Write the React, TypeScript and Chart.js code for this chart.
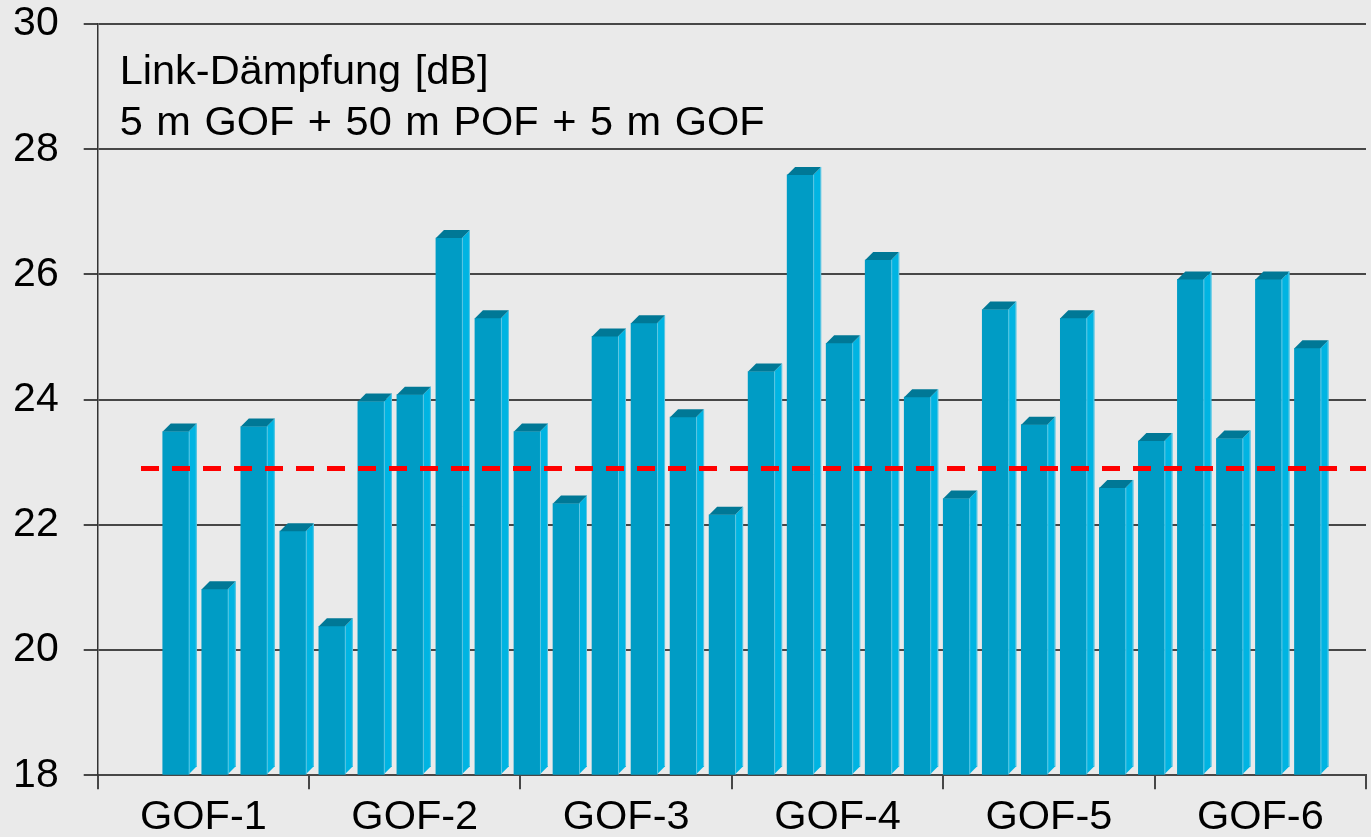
import React, { useEffect, useRef } from "react";
import { Chart, registerables } from "chart.js";

Chart.register(...registerables);

const categories = ["GOF-1", "GOF-2", "GOF-3", "GOF-4", "GOF-5", "GOF-6"];
const barValues = [
  23.49, 20.97, 23.57, 21.9, 20.38,
  23.97, 24.08, 26.58, 25.3, 23.49,
  22.34, 25.01, 25.22, 23.72, 22.16,
  24.45, 27.59, 24.9, 26.23, 24.04,
  22.42, 25.44, 23.6, 25.3, 22.59,
  23.34, 25.92, 23.38, 25.92, 24.82,
];
const yTicks = [18, 20, 22, 24, 26, 28, 30];
const refValue = 22.9;
const refSpan = [-0.89, 30.5];
const titleLines = ["Link-Dämpfung [dB]", "5 m GOF + 50 m POF + 5 m GOF"];

const FONT = "'Liberation Sans', Arial, sans-serif";
const FRONT = "#009cc5";
const SIDE = "#00b4e2";
const TOP = "#007896";
const EDGE = "#5fc6e2";
const GRID = "#474747";

const faces3d = {
  id: "faces3d",
  afterDatasetDraw(chart: any, args: any) {
    if (args.index !== 0) return;
    const meta = chart.getDatasetMeta(0);
    const ctx = chart.ctx;
    const d = 8;
    const bottom = chart.chartArea.bottom;
    ctx.save();
    meta.data.forEach((el: any) => {
      const p = el.getProps(["x", "y", "base", "width"], true);
      const x = p.x, y = p.y, width = p.width;
      const base = Math.min(p.base, bottom);
      const l = x - width / 2;
      const r = x + width / 2;
      ctx.fillStyle = SIDE;
      ctx.beginPath();
      ctx.moveTo(r, y);
      ctx.lineTo(r + d, y - d);
      ctx.lineTo(r + d, base - d);
      ctx.lineTo(r, base);
      ctx.closePath();
      ctx.fill();
      ctx.fillStyle = TOP;
      ctx.beginPath();
      ctx.moveTo(l, y);
      ctx.lineTo(l + d, y - d);
      ctx.lineTo(r + d, y - d);
      ctx.lineTo(r, y);
      ctx.closePath();
      ctx.fill();
      ctx.strokeStyle = EDGE;
      ctx.lineWidth = 1;
      ctx.beginPath();
      ctx.moveTo(r + 0.5, y);
      ctx.lineTo(r + 0.5, base);
      ctx.moveTo(r + d - 0.5, y - d);
      ctx.lineTo(r + d - 0.5, base - d);
      ctx.stroke();
    });
    ctx.restore();
  },
};

const titlePlugin = {
  id: "innerTitle",
  afterDraw(chart: any) {
    const ctx = chart.ctx;
    const { left, top } = chart.chartArea;
    ctx.save();
    ctx.fillStyle = "#000";
    ctx.font = `41.5px ${FONT}`;
    try {
      (ctx as any).wordSpacing = "2px";
    } catch (e) {}
    ctx.textAlign = "left";
    ctx.textBaseline = "alphabetic";
    ctx.fillText(titleLines[0], left + 22, top + 60);
    ctx.fillText(titleLines[1], left + 22, top + 111);
    ctx.restore();
  },
};

export default function App() {
  const ref = useRef<HTMLCanvasElement | null>(null);
  useEffect(() => {
    if (!ref.current) return;
    const chart = new Chart(ref.current, {
      type: "bar",
      data: {
        datasets: [
          {
            type: "bar",
            data: barValues.map((v, i) => ({ x: i, y: v })),
            backgroundColor: FRONT,
            borderWidth: 0,
            barThickness: 26,
            base: 18,
            xAxisID: "xb",
            yAxisID: "y",
            order: 2,
          } as any,
          {
            type: "line",
            data: refSpan.map((x) => ({ x, y: refValue })),
            borderColor: "#ff0000",
            borderWidth: 5,
            borderDash: [18, 13],
            pointRadius: 0,
            fill: false,
            xAxisID: "xb",
            yAxisID: "y",
            order: 1,
          } as any,
        ],
      },
      options: {
        animation: false,
        responsive: false,
        maintainAspectRatio: false,
        layout: { padding: { left: 0, right: 5, top: 24, bottom: 0 } },
        plugins: { legend: { display: false }, tooltip: { enabled: false } },
        scales: {
          xb: {
            type: "linear",
            display: false,
            offset: false,
            min: -2,
            max: 30.5,
          },
          x: {
            type: "category",
            labels: categories,
            position: "bottom",
            offset: true,
            grid: {
              offset: true,
              drawOnChartArea: false,
              drawTicks: true,
              tickLength: 14,
              color: GRID,
              lineWidth: 2,
            },
            border: { display: true, color: GRID, width: 2 },
            ticks: {
              font: { family: FONT, size: 41.5 },
              color: "#000",
              padding: 3,
              maxRotation: 0,
              autoSkip: false,
            },
            afterFit: (s: any) => {
              s.height = 61.7;
              s.paddingLeft = 0;
              s.paddingRight = 0;
            },
          },
          y: {
            type: "linear",
            min: 18,
            max: 30,
            afterBuildTicks: (s: any) => {
              s.ticks = yTicks.map((v) => ({ value: v }));
            },
            grid: {
              color: GRID,
              lineWidth: 2,
              tickLength: 14,
              drawTicks: true,
            },
            border: { display: true, color: "#333", width: 1.5 },
            ticks: {
              font: { family: FONT, size: 41 },
              color: "#000",
              padding: 25,
            },
            afterFit: (s: any) => {
              s.width = 97.7;
              s.paddingTop = 0;
              s.paddingBottom = 0;
            },
          },
        },
      } as any,
      plugins: [faces3d, titlePlugin],
    });
    return () => chart.destroy();
  }, []);

  return (
    <div
      style={{
        position: "absolute",
        left: 0,
        top: 0,
        width: 1371,
        height: 837,
        background: "#eaeaea",
      }}
    >
      <canvas ref={ref} width={1371} height={837} style={{ display: "block" }} />
    </div>
  );
}
